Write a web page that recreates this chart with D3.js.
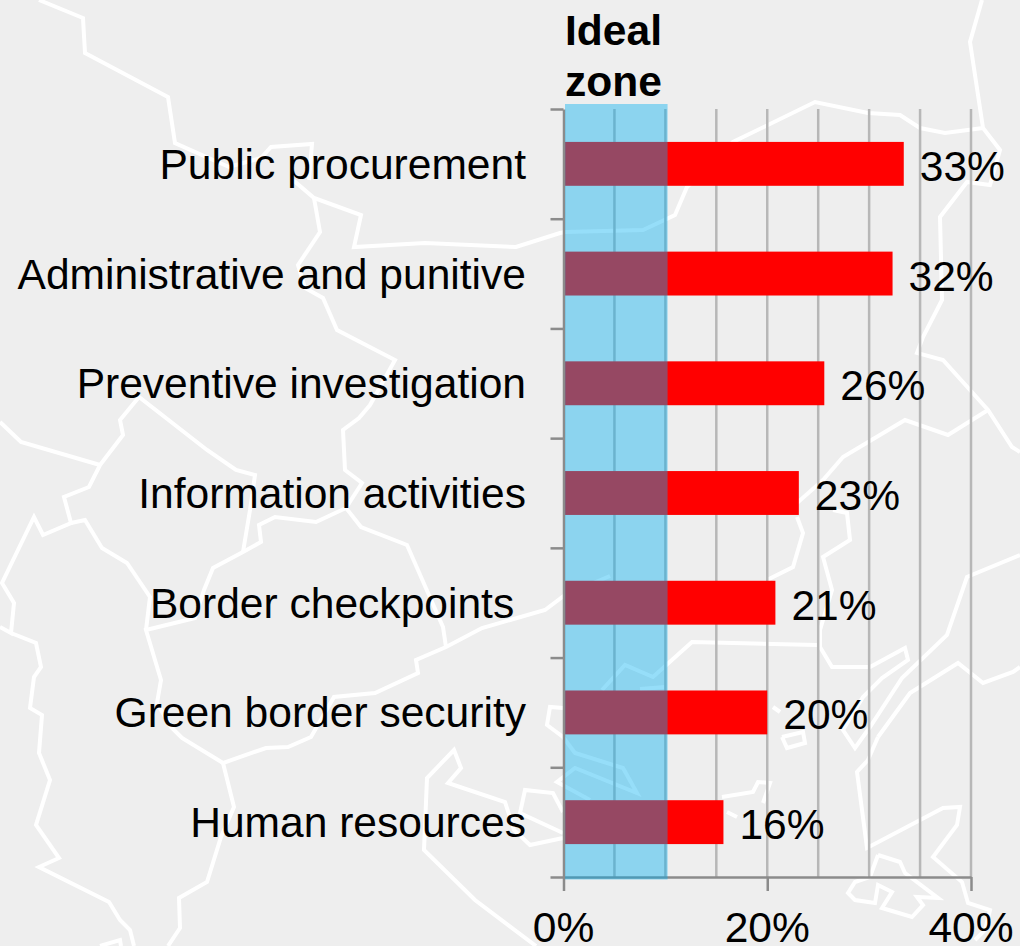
<!DOCTYPE html>
<html>
<head>
<meta charset="utf-8">
<script src="https://cdnjs.cloudflare.com/ajax/libs/d3/7.8.5/d3.min.js"></script>
<style>
html, body { margin: 0; padding: 0; background: #eeeeee; }
svg { display: block; }
text { font-family: "Liberation Sans", Arial, sans-serif; fill: #000; white-space: pre; }
</style>
</head>
<body>
<div id="chart"></div>
<script>
var categories = ["Public procurement", "Administrative and punitive", "Preventive investigation",
	"Information activities", "Border checkpoints ", "Green border security", "Human resources"];
var shares = [33.4, 32.3, 25.6, 23.1, 20.8, 20, 15.7];
var xTicks = [0, 20, 40];
var gridValues = [5, 10, 15, 20, 25, 30, 35, 40];
var idealZone = [0, 10];
var zoneTitle = ["Ideal", "zone"];

// white border lines of the backdrop map, traced by hand in page pixels
var mapLines = [
	[[39,0],[83,18],[85,53],[168,97],[175,143],[229,167],[261,158],[271,147],[312,144],[309,180]],
	[[293,180],[314,198],[361,215],[354,247],[425,243],[516,247],[560,233],[565,232],[643,230],[675,215],[687,187],[733,142],[815,102],[868,113],[900,115],[920,128],[945,133],[983,128]],
	[[982,0],[970,42],[983,128],[1000,150],[990,185],[967,182],[940,217],[942,300],[923,337],[917,353],[943,360],[988,410],[1012,447],[1020,452]],
	[[988,410],[948,435],[905,420],[843,457],[823,480],[797,503]],
	[[797,517],[803,533],[793,567],[767,580]],
	[[833,510],[847,513],[850,540],[823,557],[832,590],[820,630],[820,647],[832,667],[870,667],[905,648],[908,660],[882,678],[863,697],[843,730],[855,748],[870,727],[902,678],[947,635],[967,577],[1020,555]],
	[[314,198],[320,232],[298,265],[305,288],[323,298],[337,330],[395,360],[370,405],[359,418],[343,430],[345,470],[362,483],[346,508],[361,527],[407,545],[443,627],[446,647]],
	[[610,576],[565,595],[545,610],[482,628],[446,647],[416,660],[418,673],[375,693],[334,697],[311,737],[288,747],[266,748],[223,763],[234,807],[221,837],[207,882],[179,898],[180,928],[168,946]],
	[[223,763],[182,738],[171,727],[157,703],[161,680],[146,630],[195,618],[204,590],[213,568],[243,552],[261,542],[259,525],[275,517],[316,522],[346,508]],
	[[243,552],[250,510],[255,475],[236,470],[207,450],[139,397],[120,420],[123,435],[100,465],[89,487],[64,497],[71,523],[43,535],[34,517],[2,583],[14,603],[11,633],[0,627]],
	[[0,422],[21,442],[100,465]],
	[[11,633],[36,643],[41,667],[34,677],[30,708],[42,715],[39,753],[50,780],[36,825],[59,858],[39,867],[109,902],[120,920],[130,930],[134,946]],
	[[71,523],[85,520],[102,548],[127,563],[150,597],[146,630]],
	[[100,946],[120,940],[121,946]],
	[[536,946],[475,900],[424,850],[427,778],[454,750],[461,768],[448,783],[505,802],[514,830],[530,845],[563,838]],
	[[563,812],[553,793],[525,790],[520,813],[563,833]],
	[[563,708],[550,707],[547,725],[563,737],[575,753],[623,768],[637,793],[575,768],[557,782],[590,800]],
	[[602,690],[625,665],[653,677],[692,642],[817,645]],
	[[640,689],[665,687]],
	[[878,737],[910,693],[958,663],[983,683],[1013,672],[1020,667]],
	[[878,737],[868,760],[857,772],[867,848],[943,808],[960,807],[957,825],[933,857],[962,882],[968,903],[990,910],[985,930],[975,940]],
	[[782,737],[803,732],[805,743],[787,748],[782,737]],
	[[773,707],[780,712]],
	[[722,797],[753,792],[758,782],[770,783],[763,803]],
	[[727,812],[737,817]],
	[[878,855],[900,862],[905,873],[938,898],[917,897],[923,905],[912,917],[882,908],[892,892],[878,885],[875,903],[855,900],[848,893],[855,882],[870,877],[878,855]]
];

var width = 1020, height = 946;
var margin = { left: 563.5, right: 49, top: 109, bottom: 69 };
var fontSize = 42.55;

var svg = d3.select("#chart").append("svg")
	.attr("width", width)
	.attr("height", height);

svg.append("rect")
	.attr("width", width)
	.attr("height", height)
	.attr("fill", "#eeeeee");

var x = d3.scaleLinear().domain([0, 40]).range([margin.left, width - margin.right]);
var y = d3.scaleBand().domain(categories)
	.range([margin.top, height - margin.bottom])
	.paddingInner(0.6).paddingOuter(0.3);
// band edges, where the category ticks sit
var edge = d3.scaleLinear().domain([0, categories.length]).range([height - margin.bottom, margin.top]);

var mapLine = d3.line();
svg.append("g").selectAll("path")
	.data(mapLines)
	.enter().append("path")
		.attr("d", mapLine)
		.attr("fill", "none")
		.attr("stroke", "#ffffff")
		.attr("stroke-width", 4)
		.attr("stroke-linejoin", "miter");

// grid
svg.append("g").selectAll("line")
	.data(gridValues)
	.enter().append("line")
		.attr("x1", function(d) { return x(d); })
		.attr("x2", function(d) { return x(d); })
		.attr("y1", margin.top)
		.attr("y2", height - margin.bottom)
		.attr("stroke", "#b7b7b7")
		.attr("stroke-width", 2.5);

// bars
svg.append("g").selectAll("rect")
	.data(shares)
	.enter().append("rect")
		.attr("x", x(0))
		.attr("y", function(d, i) { return y(categories[i]); })
		.attr("width", function(d) { return x(d) - x(0); })
		.attr("height", y.bandwidth())
		.attr("fill", "#ff0000");

// axes
var xAxis = svg.append("g")
	.attr("transform", "translate(0," + (height - margin.bottom) + ")")
	.call(d3.axisBottom(x).tickValues(xTicks).tickSize(14).tickPadding(21)
		.tickSizeOuter(0).tickFormat(function(d) { return d + "%"; }));
var yAxis = svg.append("g")
	.attr("transform", "translate(" + margin.left + ",0)")
	.call(d3.axisLeft(edge).ticks(categories.length).tickSize(13).tickSizeOuter(0).tickFormat(""));

[xAxis, yAxis].forEach(function(a) {
	a.selectAll("path, line").attr("stroke", "#8b8b8b").attr("stroke-width", 2.5);
});
xAxis.selectAll("text")
	.attr("fill", "#000")
	.attr("dx", -0.5)
	.style("font-size", fontSize + "px");

// ideal zone goes over everything, the bars turn maroon through it
svg.append("rect")
	.attr("x", x(idealZone[0]) + 1.5)
	.attr("y", margin.top - 5)
	.attr("width", x(idealZone[1]) - x(idealZone[0]) + 0.7)
	.attr("height", height - margin.bottom - margin.top + 7.5)
	.attr("fill", "#00b0f0")
	.attr("fill-opacity", 0.41);

svg.append("g").selectAll("text")
	.data(zoneTitle)
	.enter().append("text")
		.attr("x", 565)
		.attr("y", function(d, i) { return 45 + i * 50.5; })
		.attr("font-size", fontSize)
		.attr("font-weight", "bold")
		.text(function(d) { return d; });

// category labels
svg.append("g").selectAll("text")
	.data(categories)
	.enter().append("text")
		.attr("x", 526)
		.attr("y", function(d) { return y(d) + y.bandwidth() / 2 + 15; })
		.attr("text-anchor", "end")
		.attr("font-size", fontSize)
		.text(function(d) { return d; });

// value labels
svg.append("g").selectAll("text")
	.data(shares)
	.enter().append("text")
		.attr("x", function(d) { return x(d) + 16; })
		.attr("y", function(d, i) { return y(categories[i]) + y.bandwidth() / 2 + 17; })
		.attr("font-size", fontSize)
		.text(function(d) { return Math.round(d) + "%"; });
</script>
</body>
</html>
